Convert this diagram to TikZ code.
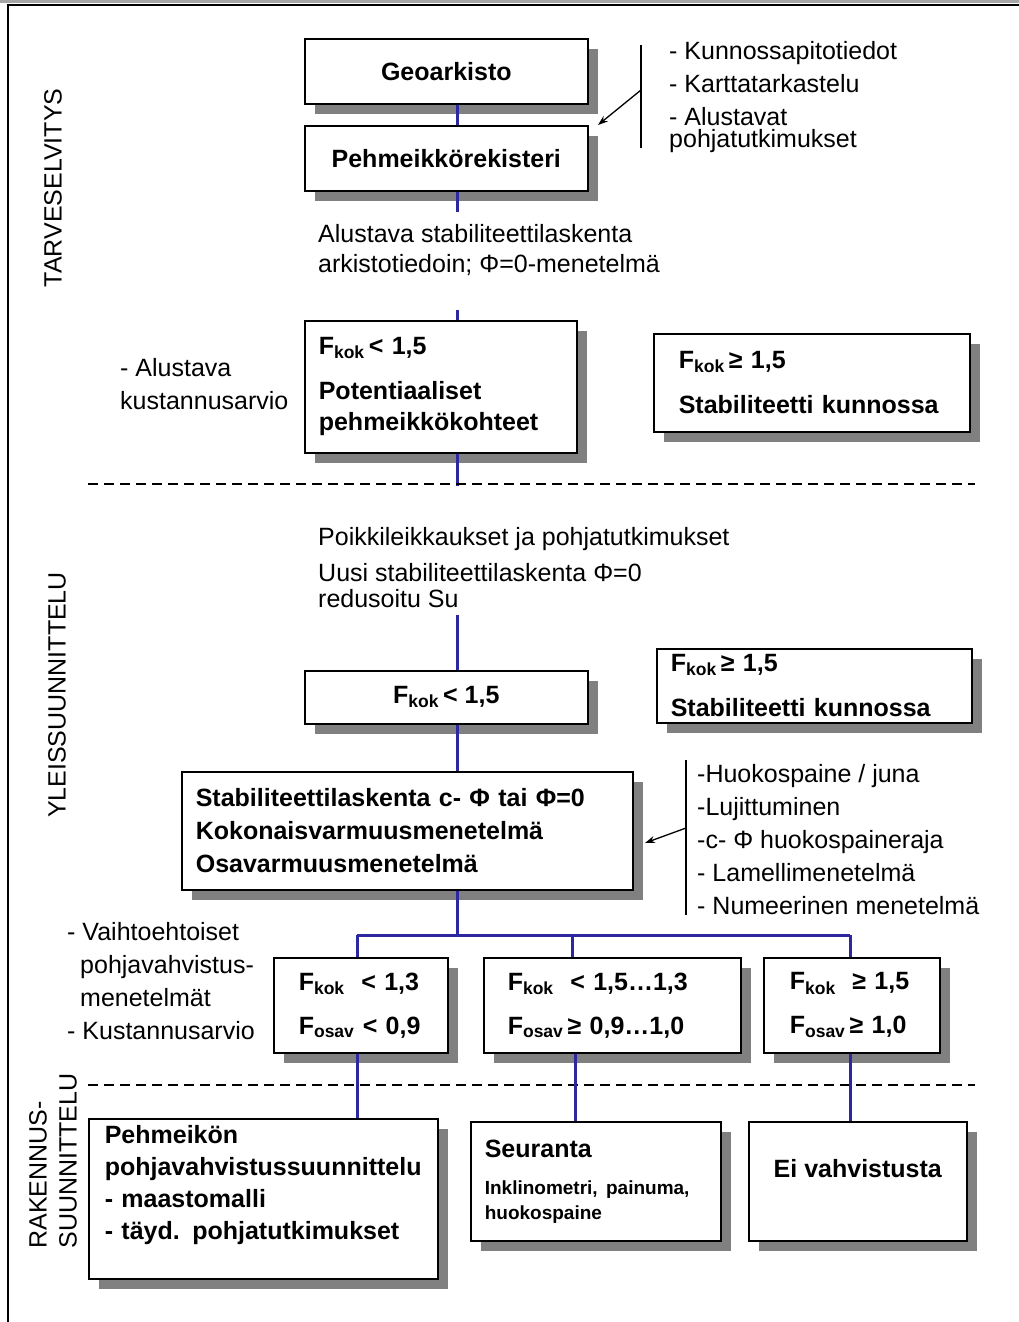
\documentclass[tikz,border=0pt]{standalone}
\usepackage{fontspec}
\setmainfont{Liberation Sans}
\usepackage{tikz}
\usetikzlibrary{arrows.meta,positioning,shadows,calc}

\definecolor{linkblue}{RGB}{45,40,160}
\definecolor{shadowgray}{RGB}{128,128,128}

\tikzset{
  box/.style={draw, line width=1.6pt, fill=white, anchor=north west,
    drop shadow={shadow xshift=10pt, shadow yshift=-10pt, fill=shadowgray, opacity=1},
    font=\bfseries\fontsize{25}{31}\selectfont, align=left, inner ysep=0pt},
  side/.style={font=\fontsize{25}{33}\selectfont, align=left, inner sep=0pt},
  link/.style={draw=linkblue, line width=3pt},
  sepline/.style={line width=2pt, dash pattern=on 10pt off 6pt},
  pointer/.style={line width=1.3pt, -{Stealth[length=10pt,width=7pt]}}
}

\begin{document}
\begin{tikzpicture}[x=1pt, y=-1pt]
\useasboundingbox (0,0) rectangle (1019,1322);
\fill[black!35] (0,0) rectangle (1019,3);
\draw[line width=2.5pt] (1019,5) -- (8,5) -- (8,1322);

% phase labels
\node[side, rotate=90] (lab1) at (53,188) {TARVESELVITYS};
\node[side, rotate=90] (lab2) at (57,695) {YLEISSUUNNITTELU};
\node[side, rotate=90, font=\fontsize{25}{30}\selectfont] (lab3) at (53,1161) {RAKENNUS-\\SUUNNITTELU};

% stage 1
\coordinate (spine) at (457,0);
\node[box, minimum width=283pt, minimum height=65pt, align=center] (geo) at (304,38) {Geoarkisto};
\node[box, minimum width=283pt, minimum height=65pt, align=center] (reg) at (304,125) {Pehmeikkörekisteri};
\node[side, anchor=west] (src) at (669,97) {- Kunnossapitotiedot\\- Karttatarkastelu\\- Alustavat\\[-11pt]pohjatutkimukset};
\coordinate (bar1a) at (641,45);
\coordinate (bar1b) at (641,148);
\coordinate (bar1m) at (641,90);
\coordinate (tip1) at (598,125);
\draw[line width=1.3pt] (bar1a) -- (bar1b);
\draw[pointer] (bar1m) -- (tip1);
\draw[link] (geo.south -| spine) -- (reg.north -| spine);
\draw[link] (reg.south -| spine) -- ++(0,20);

\node[side, anchor=west, font=\fontsize{25}{30}\selectfont] (calc1) at (318,250) {Alustava stabiliteettilaskenta\\arkistotiedoin; Φ=0-menetelmä};

\node[box, minimum width=272pt, minimum height=132pt, text width=244pt, inner xsep=14pt] (pot) at (304,320)
  {F\textsubscript{kok}\,< 1,5\\[14pt]Potentiaaliset\\pehmeikkökohteet};
\node[box, minimum width=316pt, minimum height=98pt, text width=266pt, inner xsep=25pt] (ok1) at (653,333)
  {F\textsubscript{kok}\,≥ 1,5\\[14pt]Stabiliteetti kunnossa};
\node[side, anchor=west] (cost1) at (120,384) {- Alustava\\kustannusarvio};
\draw[link] (pot.north -| spine) -- ++(0,-10);
\draw[link] (pot.south -| spine) -- ++(0,32);

\draw[sepline] (88,484) -- (975,484);

% stage 2
\node[side, anchor=west, font=\fontsize{25}{32}\selectfont] (calc2) at (318,568)
  {Poikkileikkaukset ja pohjatutkimukset\\[4pt]Uusi stabiliteettilaskenta Φ=0\\[-6pt]redusoitu Su};
\node[box, minimum width=283pt, minimum height=53pt, align=center] (fk2) at (304,670) {F\textsubscript{kok}\,< 1,5};
\node[box, minimum width=315pt, minimum height=74pt, text width=287pt, inner xsep=14pt] (ok2) at (656,648)
  {F\textsubscript{kok}\,≥ 1,5\\[14pt]Stabiliteetti kunnossa};
\draw[link] (fk2.north -| spine) -- ++(0,-55);
\node[box, minimum width=451pt, minimum height=118pt, text width=423pt, inner xsep=14pt, font=\bfseries\fontsize{25}{33}\selectfont] (meth) at (181,771)
  {Stabiliteettilaskenta c- Φ tai Φ=0\\Kokonaisvarmuusmenetelmä\\Osavarmuusmenetelmä};
\draw[link] (fk2.south -| spine) -- (meth.north -| spine);

\node[side, anchor=west] (opts) at (697,840)
  {-Huokospaine / juna\\-Lujittuminen\\-c- Φ huokospaineraja\\- Lamellimenetelmä\\- Numeerinen menetelmä};
\coordinate (bar2a) at (686,760);
\coordinate (bar2b) at (686,915);
\coordinate (bar2m) at (686,828);
\coordinate (tip2) at (645,843);
\draw[line width=1.3pt] (bar2a) -- (bar2b);
\draw[pointer] (bar2m) -- (tip2);

% branches
\node[box, minimum width=174pt, minimum height=95pt, text width=124pt, inner xsep=25pt] (brA) at (273,957)
  {F\textsubscript{kok}\ \ < 1,3\\[13pt]F\textsubscript{osav} < 0,9};
\node[box, minimum width=257pt, minimum height=95pt, text width=209pt, inner xsep=24pt] (brB) at (483,957)
  {F\textsubscript{kok}\ \ < 1,5…1,3\\[13pt]F\textsubscript{osav}\,≥ 0,9…1,0};
\node[box, minimum width=176pt, minimum height=95pt, text width=124pt, inner xsep=26pt] (brC) at (763,957)
  {F\textsubscript{kok}\ \ ≥ 1,5\\[13pt]F\textsubscript{osav}\,≥ 1,0};
\node[side, anchor=west] (cost2) at (67,981)
  {- Vaihtoehtoiset\\\hspace*{13pt}pohjavahvistus-\\\hspace*{13pt}menetelmät\\- Kustannusarvio};
\coordinate (fork) at (457,935);
\coordinate (dropA) at (357,935);
\coordinate (dropB) at (572,935);
\coordinate (dropC) at (850,935);
\draw[link] (meth.south -| spine) -- (fork);
\draw[link] (dropA) -- (dropC);
\draw[link] (dropA) -- (brA.north -| dropA);
\draw[link] (dropB) -- (brB.north -| dropB);
\draw[link] (dropC) -- (brC.north -| dropC);

\draw[sepline] (88,1085) -- (975,1085);

% stage 3
\node[box, minimum width=349pt, minimum height=160pt, text width=317pt, inner xsep=16pt, font=\bfseries\fontsize{25}{32}\selectfont] (rein) at (88,1118)
  {Pehmeikön\\pohjavahvistussuunnittelu\\- maastomalli\\- täyd. pohjatutkimukset\\~};
\node[box, minimum width=250pt, minimum height=119pt, text width=230pt, inner xsep=10pt] (mon) at (470,1121)
  {\hspace*{4pt}Seuranta\\[12pt]{\fontsize{19}{25}\selectfont\hspace*{4pt}Inklinometri, painuma,\\[-6pt]\hspace*{4pt}huokospaine}};
\node[box, minimum width=218pt, minimum height=119pt, align=center] (none) at (748,1121) {Ei vahvistusta\\[-6pt]~};
\draw[link] (brA.south -| dropA) -- (rein.north -| dropA);
\draw[link] (brB.south -| 575,0) -- (mon.north -| 575,0);
\draw[link] (brC.south -| dropC) -- (none.north -| dropC);
\end{tikzpicture}
\end{document}
